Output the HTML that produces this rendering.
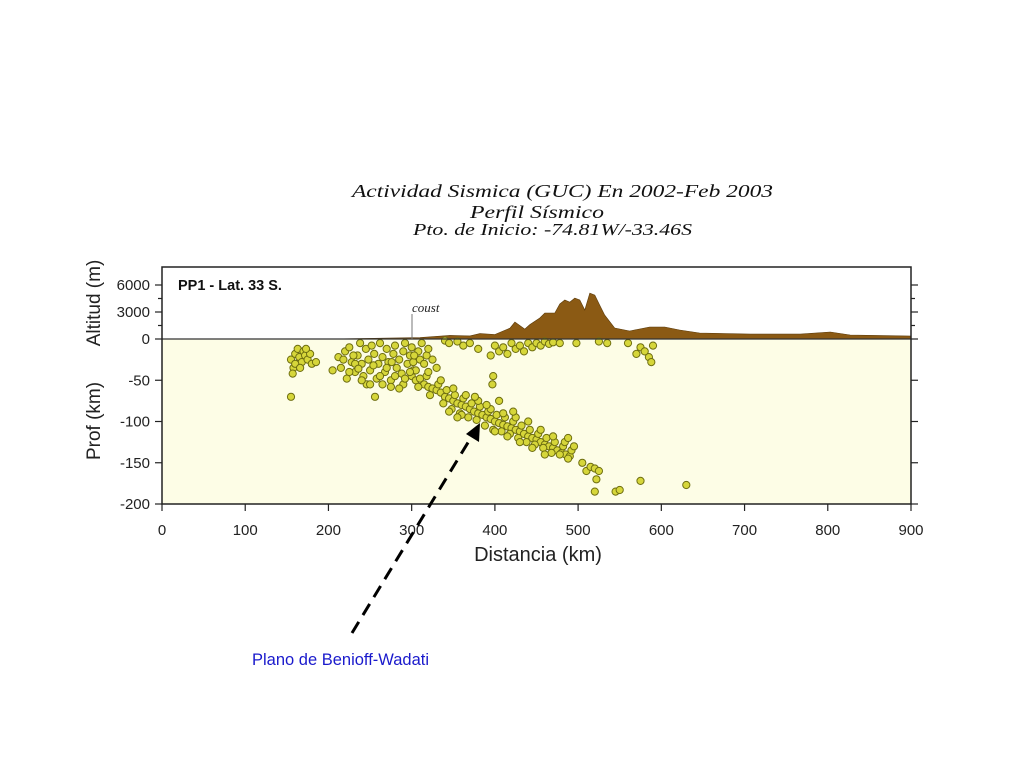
<!DOCTYPE html>
<html><head><meta charset="utf-8"><style>
body{margin:0;background:#fff;width:1024px;height:768px;overflow:hidden}
svg{display:block}
</style></head><body>
<svg id="chart" width="1024" height="768" xmlns="http://www.w3.org/2000/svg" font-family="Liberation Sans, sans-serif">
<g font-family="Liberation Serif, serif" font-style="italic" fill="#111">
<text x="352" y="197" font-size="18" textLength="421" lengthAdjust="spacingAndGlyphs">Actividad Sismica (GUC) En 2002-Feb 2003</text>
<text x="470" y="218" font-size="18" textLength="134" lengthAdjust="spacingAndGlyphs">Perfil Sísmico</text>
<text x="413" y="235" font-size="17" textLength="279" lengthAdjust="spacingAndGlyphs">Pto. de Inicio: -74.81W/-33.46S</text>
</g>
<rect x="162" y="339" width="749" height="165" fill="#fdfde6"/>
<g id="topo"></g>
<g id="quakes"></g>
<line x1="162" y1="339" x2="911" y2="339" stroke="#333" stroke-width="1.2"/>
<rect x="162" y="267" width="749" height="237" fill="none" stroke="#222" stroke-width="1.5"/>
<g id="axes" font-size="15" fill="#222"></g>
<text x="178" y="290" font-size="14.5" font-weight="bold" fill="#111">PP1 - Lat. 33 S.</text>
<line x1="412" y1="314" x2="412" y2="339" stroke="#777" stroke-width="1"/>
<text x="412" y="312" font-size="13" font-style="italic" font-family="Liberation Serif, serif" fill="#222">coust</text>
<text transform="translate(100,303) rotate(-90)" text-anchor="middle" font-size="19" fill="#222">Altitud (m)</text>
<text transform="translate(100,421) rotate(-90)" text-anchor="middle" font-size="19" fill="#222">Prof (km)</text>
<text x="538" y="561" text-anchor="middle" font-size="20" fill="#222">Distancia (km)</text>
<line x1="352" y1="633" x2="472" y2="436" stroke="#000" stroke-width="3" stroke-dasharray="13,8"/>
<polygon points="480,423 479,442 466,434" fill="#000"/>
<text x="252" y="665" font-size="16.5" fill="#1a1acc">Plano de Benioff-Wadati</text>
</svg>
<script>
const xTicks=[0,100,200,300,400,500,600,700,800,900];
const altTicks=[0,3000,6000];
const depthTicks=[-50,-100,-150,-200];
const topoKm=[0,200,310,346,370,382,400,418,424,436,442,454,460,472,478,484,490,496,502,508,514,520,526,532,544,562,586,604,622,646,707,767,803,827,900];
const topoAlt=[0,0,150,400,350,600,500,1200,1890,1100,1600,2330,2890,2890,3890,4330,4100,4550,4330,3220,5100,4880,3770,2660,1220,890,1330,1330,1000,670,550,550,780,440,330];
const quakeKm=[155,158,160,163,165,168,170,172,175,178,160,166,180,173,157,185,155,
300,305,310,315,320,325,330,335,340,345,350,355,360,365,370,375,380,385,390,395,400,405,410,415,420,425,430,435,440,445,450,455,460,465,470,475,480,485,490,
302,308,318,322,332,338,342,348,352,358,362,368,372,378,382,388,392,398,402,408,412,418,422,428,432,438,442,448,452,458,462,468,472,478,482,488,492,484,470,455,440,425,410,395,380,365,350,335,320,460,445,430,415,400,390,376,360,345,355,405,422,495,488,
212,215,220,225,228,232,235,238,240,242,245,248,250,252,255,258,260,262,265,268,270,272,275,278,280,282,285,288,290,292,295,298,300,302,305,308,310,312,315,318,320,325,330,222,232,246,256,275,290,285,265,205,225,240,250,262,280,292,303,270,230,218,236,254,276,298,
340,345,355,362,370,380,395,398,397,400,405,410,415,420,425,430,435,440,445,450,455,460,465,470,478,498,525,535,560,570,575,580,585,588,590,
510,515,520,525,522,520,545,550,575,630,505];
const quakeDepth=[25,35,18,12,22,28,15,20,25,18,30,35,30,12,42,28,70,
45,50,48,55,58,60,62,65,70,72,75,78,80,82,85,88,90,92,95,97,100,102,104,106,108,110,112,115,118,120,122,125,128,130,132,135,138,140,142,
38,58,45,68,55,78,62,85,68,90,72,95,78,98,82,105,88,110,92,112,95,115,100,120,105,125,110,128,115,132,120,138,125,140,130,145,135,125,118,110,100,95,90,85,75,68,60,50,40,140,132,125,118,112,80,70,92,88,95,75,88,130,120,
22,35,15,10,28,40,20,5,30,45,12,25,38,8,18,48,30,5,22,40,12,28,50,18,8,35,25,42,15,5,30,20,10,28,38,15,25,5,30,20,12,25,35,48,30,55,70,58,55,60,55,38,40,50,55,45,45,48,20,35,20,25,36,32,28,40,
2,5,3,8,5,12,20,45,55,8,15,10,18,5,12,8,15,5,10,5,8,3,6,4,5,5,3,5,5,18,10,15,22,28,8,
160,155,157,160,170,185,185,183,172,177,150];
const NS='http://www.w3.org/2000/svg';
const X0=162,X1=911,YA=339;
const xs=v=>X0+v*(X1-X0)/900;
const ya=v=>YA-v*27/3000;
const yd=v=>YA-v*(165/200);
const topo=document.getElementById('topo');
let d='M'+xs(topoKm[0])+','+ya(0);
for(let i=0;i<topoKm.length;i++) d+=' L'+xs(topoKm[i]).toFixed(1)+','+ya(topoAlt[i]).toFixed(1);
d+=' L'+xs(900)+','+ya(0)+' Z';
const p=document.createElementNS(NS,'path');
p.setAttribute('d',d);p.setAttribute('fill','#8b5a14');p.setAttribute('stroke','#5a3a0a');p.setAttribute('stroke-width','0.6');


topo.appendChild(p);
const q=document.getElementById('quakes');
for(let i=0;i<quakeKm.length;i++){
 const c=document.createElementNS(NS,'circle');
 c.setAttribute('cx',xs(quakeKm[i]).toFixed(1));c.setAttribute('cy',yd(-quakeDepth[i]).toFixed(1));
 c.setAttribute('r','3.6');c.setAttribute('fill','#d6d63a');c.setAttribute('stroke','#6e6e10');c.setAttribute('stroke-width','1');
 
 
 q.appendChild(c);
}
const ax=document.getElementById('axes');
function line(x1,y1,x2,y2){const l=document.createElementNS(NS,'line');l.setAttribute('x1',x1);l.setAttribute('y1',y1);l.setAttribute('x2',x2);l.setAttribute('y2',y2);l.setAttribute('stroke','#222');l.setAttribute('stroke-width','1.2');
 
 
 ax.appendChild(l);}
function txt(x,y,s,anchor){const t=document.createElementNS(NS,'text');t.setAttribute('x',x);t.setAttribute('y',y);t.setAttribute('text-anchor',anchor);t.textContent=s;
 
 
 ax.appendChild(t);}
xTicks.forEach(v=>{const x=xs(v);line(x,504,x,511);txt(x,535,String(v),'middle');});
altTicks.forEach(v=>{const y=ya(v);line(155,y,162,y);line(911,y,918,y);txt(150,y+5,String(v),'end');});
[1500,4500].forEach(v=>{const y=ya(v);line(158,y,162,y);line(911,y,915,y);});
depthTicks.forEach(v=>{const y=yd(v);line(155,y,162,y);line(911,y,918,y);txt(150,y+5,String(v),'end');});
</script>
</body></html>
